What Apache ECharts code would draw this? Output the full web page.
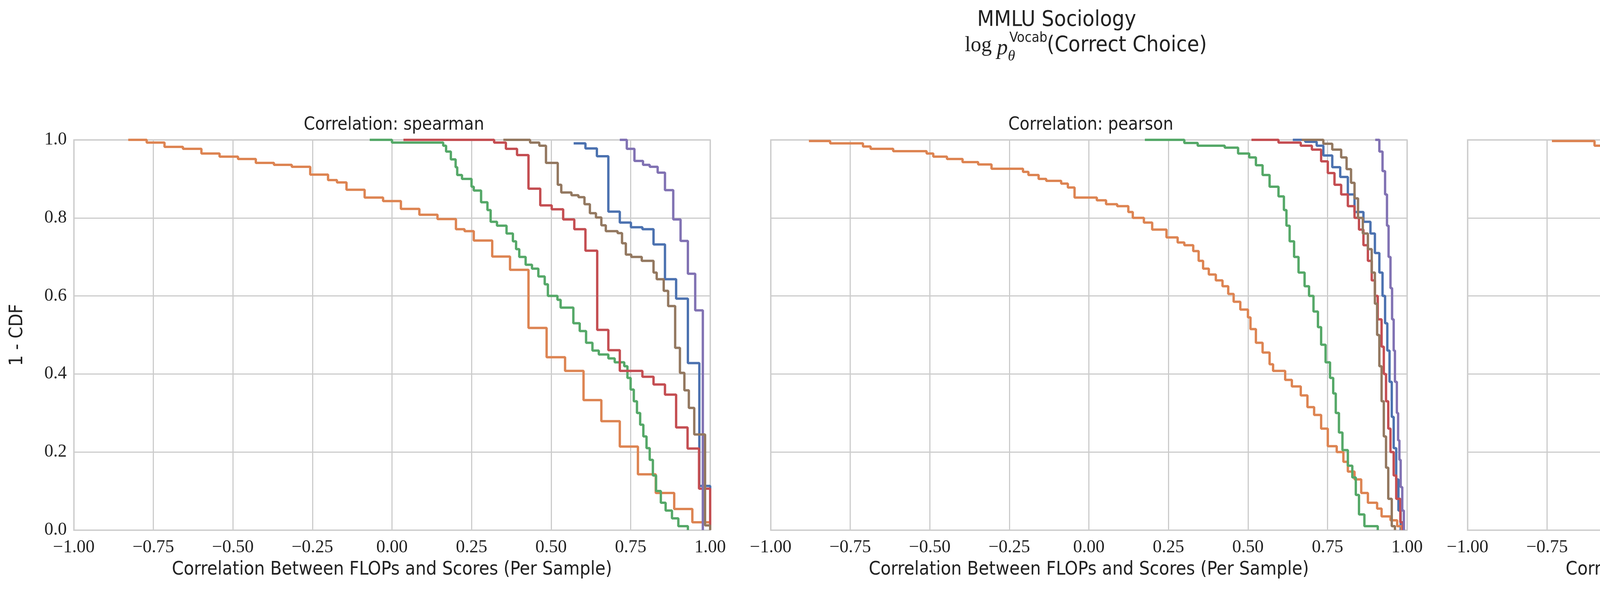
<!DOCTYPE html>
<html>
<head>
<meta charset="utf-8">
<script src="https://cdn.jsdelivr.net/npm/echarts@6/dist/echarts.min.js"></script>
<style>
html, body { margin: 0; padding: 0; background: #fff; }
#chart { width: 6541px; height: 1536px; }
</style>
</head>
<body>
<div id="chart"></div>
<script>
// model families and colours
const families = [
  'Cerebras (Param. and Data Scaling)',
  'INCITE 7B Param. (Data Scaling)',
  'LLM360 Amber 7B Tokens (Param Scaling)',
  'OLMo 7B Param. (Data Scaling)',
  'Pythia 12B Param. (Data Scaling)',
  'Pythia 300B Tokens (Param. Scaling)'
];
const colors = ['#4c72b0', '#dd8452', '#55a868', '#c44e52', '#8172b3', '#937860'];
const panelTitles = ['Correlation: spearman', 'Correlation: pearson', 'Correlation: kendall'];
const xTicks = [-1, -0.75, -0.5, -0.25, 0, 0.25, 0.5, 0.75, 1];
const yTicks = [0, 0.2, 0.4, 0.6, 0.8, 1.0];

// 1 - CDF steps: [correlation, value after the drop]
// spearman
const sp_cerebras = [[0.571,0.991],[0.608,0.978],[0.644,0.958],[0.680,0.816],[0.716,0.788],[0.751,0.776],[0.787,0.771],[0.822,0.732],[0.858,0.643],[0.893,0.593],[0.930,0.428],[0.966,0.113],[1.0,0]];
const sp_incite = [[-0.829,1.0],[-0.771,0.993],[-0.715,0.982],[-0.657,0.977],[-0.599,0.965],[-0.542,0.957],[-0.484,0.951],[-0.428,0.941],[-0.371,0.936],[-0.315,0.931],[-0.257,0.911],[-0.201,0.897],[-0.173,0.891],[-0.143,0.872],[-0.086,0.852],[-0.028,0.843],[0.028,0.823],[0.086,0.808],[0.143,0.797],[0.201,0.771],[0.228,0.766],[0.257,0.742],[0.315,0.701],[0.371,0.667],[0.429,0.518],[0.486,0.443],[0.544,0.408],[0.602,0.333],[0.658,0.279],[0.716,0.214],[0.773,0.143],[0.829,0.095],[0.887,0.054],[0.944,0.020],[1.0,0]];
const sp_amber = [[-0.07,1.0],[0.0,0.993],[0.161,0.985],[0.17,0.97],[0.185,0.95],[0.2,0.93],[0.205,0.91],[0.22,0.90],[0.25,0.88],[0.257,0.87],[0.28,0.84],[0.30,0.82],[0.31,0.79],[0.33,0.78],[0.36,0.76],[0.38,0.74],[0.39,0.72],[0.40,0.70],[0.42,0.68],[0.44,0.67],[0.46,0.65],[0.48,0.63],[0.49,0.60],[0.52,0.59],[0.53,0.57],[0.57,0.53],[0.59,0.51],[0.61,0.48],[0.63,0.46],[0.65,0.45],[0.68,0.44],[0.70,0.43],[0.73,0.42],[0.74,0.39],[0.75,0.36],[0.76,0.33],[0.77,0.30],[0.78,0.27],[0.79,0.24],[0.80,0.21],[0.81,0.18],[0.82,0.14],[0.83,0.10],[0.845,0.07],[0.86,0.05],[0.88,0.03],[0.90,0.01],[0.93,0.0]];
const sp_olmo = [[0.036,1.0],[0.321,0.993],[0.358,0.977],[0.393,0.961],[0.429,0.875],[0.466,0.832],[0.502,0.822],[0.538,0.796],[0.573,0.771],[0.608,0.716],[0.645,0.513],[0.680,0.461],[0.716,0.408],[0.787,0.393],[0.822,0.373],[0.858,0.347],[0.893,0.263],[0.929,0.209],[0.965,0.106],[1.0,0]];
const sp_pythia12 = [[0.716,1.0],[0.738,0.977],[0.762,0.946],[0.789,0.936],[0.810,0.931],[0.835,0.916],[0.858,0.871],[0.884,0.796],[0.907,0.741],[0.930,0.657],[0.953,0.563],[0.977,0.0]];
const sp_pythia300 = [[0.350,1.0],[0.434,0.993],[0.463,0.985],[0.484,0.941],[0.521,0.885],[0.532,0.865],[0.564,0.858],[0.586,0.853],[0.605,0.835],[0.622,0.812],[0.641,0.801],[0.658,0.781],[0.672,0.766],[0.709,0.761],[0.723,0.735],[0.735,0.706],[0.752,0.700],[0.785,0.690],[0.822,0.660],[0.832,0.643],[0.854,0.613],[0.868,0.574],[0.890,0.467],[0.905,0.403],[0.919,0.358],[0.933,0.313],[0.950,0.245],[0.984,0.012],[1.0,0]];
// pearson
const pe_cerebras = [[0.641,1.0],[0.680,0.995],[0.716,0.985],[0.737,0.960],[0.765,0.930],[0.790,0.905],[0.814,0.860],[0.835,0.815],[0.863,0.790],[0.885,0.760],[0.899,0.710],[0.913,0.660],[0.923,0.600],[0.931,0.530],[0.938,0.460],[0.945,0.380],[0.952,0.290],[0.958,0.210],[0.966,0.130],[0.973,0.050],[0.980,0.0]];
const pe_incite = [[-0.880,0.997],[-0.813,0.991],[-0.710,0.983],[-0.686,0.977],[-0.615,0.971],[-0.510,0.965],[-0.489,0.957],[-0.446,0.951],[-0.397,0.943],[-0.348,0.937],[-0.306,0.926],[-0.207,0.918],[-0.190,0.910],[-0.158,0.900],[-0.134,0.895],[-0.087,0.888],[-0.066,0.878],[-0.045,0.852],[0.025,0.845],[0.054,0.835],[0.089,0.830],[0.124,0.815],[0.138,0.800],[0.173,0.788],[0.199,0.770],[0.244,0.750],[0.279,0.737],[0.300,0.730],[0.328,0.715],[0.345,0.690],[0.359,0.670],[0.377,0.655],[0.399,0.640],[0.420,0.625],[0.438,0.605],[0.455,0.585],[0.476,0.565],[0.500,0.545],[0.508,0.515],[0.525,0.480],[0.546,0.455],[0.568,0.425],[0.579,0.408],[0.617,0.385],[0.638,0.368],[0.666,0.345],[0.687,0.315],[0.708,0.295],[0.730,0.260],[0.751,0.215],[0.779,0.200],[0.800,0.175],[0.814,0.150],[0.835,0.130],[0.856,0.095],[0.877,0.070],[0.906,0.055],[0.920,0.035],[0.948,0.025],[0.969,0.010],[0.983,0.0]];
const pe_amber = [[0.176,1.0],[0.300,0.992],[0.342,0.985],[0.427,0.980],[0.469,0.965],[0.504,0.955],[0.525,0.935],[0.546,0.910],[0.568,0.880],[0.596,0.855],[0.613,0.820],[0.621,0.780],[0.631,0.740],[0.645,0.700],[0.659,0.660],[0.678,0.625],[0.692,0.600],[0.706,0.560],[0.720,0.520],[0.730,0.475],[0.744,0.430],[0.758,0.390],[0.768,0.350],[0.776,0.300],[0.786,0.250],[0.797,0.205],[0.814,0.165],[0.828,0.135],[0.839,0.090],[0.849,0.040],[0.866,0.010],[0.908,0.0]];
const pe_olmo = [[0.511,1.0],[0.596,0.993],[0.666,0.985],[0.701,0.975],[0.730,0.945],[0.751,0.915],[0.772,0.885],[0.793,0.860],[0.814,0.830],[0.835,0.800],[0.849,0.770],[0.863,0.730],[0.877,0.690],[0.889,0.640],[0.899,0.600],[0.908,0.540],[0.920,0.470],[0.927,0.400],[0.934,0.330],[0.941,0.260],[0.948,0.200],[0.958,0.140],[0.966,0.080],[0.979,0.020],[0.987,0.0]];
const pe_pythia12 = [[0.900,1.0],[0.913,0.970],[0.923,0.920],[0.931,0.860],[0.937,0.780],[0.942,0.700],[0.948,0.620],[0.953,0.540],[0.958,0.460],[0.962,0.380],[0.968,0.300],[0.972,0.230],[0.976,0.180],[0.980,0.110],[0.985,0.050],[0.990,0.0]];
const pe_pythia300 = [[0.669,1.0],[0.737,0.990],[0.765,0.975],[0.793,0.955],[0.810,0.925],[0.824,0.890],[0.835,0.850],[0.846,0.800],[0.861,0.760],[0.877,0.720],[0.889,0.660],[0.899,0.580],[0.906,0.500],[0.913,0.420],[0.920,0.330],[0.927,0.240],[0.934,0.160],[0.941,0.080],[0.952,0.010],[0.962,0.0]];
// kendall
const ke_cerebras = [[0.334,0.991],[0.432,0.960],[0.525,0.817],[0.622,0.742],[0.715,0.635],[0.812,0.427],[0.908,0.113],[1.0,0]];
const ke_incite = [[-0.735,0.997],[-0.601,0.985],[-0.467,0.960],[-0.333,0.940],[-0.199,0.905],[-0.138,0.900],[-0.065,0.846],[0.066,0.797],[0.140,0.792],[0.200,0.673],[0.334,0.425],[0.468,0.265],[0.601,0.145],[0.735,0.053],[0.869,0.020],[1.0,0.02]];
const ke_amber = [[-0.121,0.997],[-0.030,0.995],[0.001,0.980],[0.031,0.963],[0.062,0.945],[0.093,0.912],[0.123,0.870],[0.153,0.826],[0.182,0.781],[0.213,0.752],[0.245,0.722],[0.274,0.672],[0.305,0.647],[0.334,0.612],[0.365,0.572],[0.398,0.532],[0.426,0.522],[0.458,0.472],[0.488,0.447],[0.518,0.432],[0.549,0.382],[0.580,0.362],[0.609,0.278],[0.640,0.213],[0.669,0.153],[0.700,0.083],[0.729,0.053],[0.760,0.023],[0.791,0.005],[0.821,0.0]];
const ke_olmo = [[0.048,0.997],[0.144,0.990],[0.241,0.960],[0.334,0.855],[0.429,0.578],[0.525,0.468],[0.622,0.392],[0.715,0.333],[0.812,0.208],[0.908,0.104],[1.0,0.104]];
const ke_pythia12 = [[0.432,0.997],[0.502,0.980],[0.574,0.945],[0.619,0.940],[0.645,0.917],[0.715,0.835],[0.789,0.715],[0.859,0.566],[0.930,0.11],[0.99,0.02],[1.0,0.02]];
const ke_pythia300 = [[0.168,1.0],[0.224,0.990],[0.281,0.980],[0.309,0.975],[0.334,0.920],[0.389,0.865],[0.446,0.790],[0.502,0.765],[0.559,0.725],[0.612,0.682],[0.669,0.642],[0.725,0.582],[0.756,0.578],[0.779,0.403],[0.810,0.398],[0.835,0.263],[0.891,0.103],[0.948,0.008],[1.0,0.008]];

const panels = [
  [sp_cerebras, sp_incite, sp_amber, sp_olmo, sp_pythia12, sp_pythia300],
  [pe_cerebras, pe_incite, pe_amber, pe_olmo, pe_pythia12, pe_pythia300],
  [ke_cerebras, ke_incite, ke_amber, ke_olmo, ke_pythia12, ke_pythia300]
];

const gridLefts = [189, 1973, 3757];
const gridW = 1629, gridTop = 358, gridH = 999;
const sans = '"Liberation Sans Narrow", "DejaVu Sans Condensed", "Liberation Sans", sans-serif';
const serif = '"Liberation Serif", "DejaVu Serif", serif';
const grey = '#cccccc';

const fmtX = v => (v < 0 ? '\u2212' : '') + Math.abs(v).toFixed(2);

let chart = echarts.init(document.getElementById('chart'));

let grids = [], xAxes = [], yAxes = [], series = [], titles = [];
panels.forEach((panel, p) => {
  grids.push({ left: gridLefts[p], top: gridTop, width: gridW, height: gridH,
    show: true, borderColor: grey, borderWidth: 3, backgroundColor: '#fff' });
  xAxes.push({
    gridIndex: p, type: 'value', min: -1, max: 1, interval: 0.25,
    name: 'Correlation Between FLOPs and Scores (Per Sample)',
    nameLocation: 'middle', nameGap: 78,
    nameTextStyle: { fontFamily: sans, fontSize: 48, color: '#222' },
    axisLine: { show: true, lineStyle: { color: grey, width: 3 } },
    axisTick: { show: false },
    axisLabel: { formatter: fmtX, fontFamily: serif, fontSize: 46, color: '#222', margin: 22 },
    splitLine: { show: true, lineStyle: { color: grey, width: 3 } }
  });
  yAxes.push({
    gridIndex: p, type: 'value', min: 0, max: 1, interval: 0.2,
    name: p === 0 ? '1 - CDF' : '', nameLocation: 'middle', nameGap: 120, nameRotate: 90,
    nameTextStyle: { fontFamily: sans, fontSize: 48, color: '#222' },
    axisLine: { show: true, lineStyle: { color: grey, width: 3 } },
    axisTick: { show: false },
    axisLabel: { show: p === 0, formatter: v => v.toFixed(1), fontFamily: serif, fontSize: 46, color: '#222', margin: 18 },
    splitLine: { show: true, lineStyle: { color: grey, width: 3 } }
  });
  titles.push({
    text: panelTitles[p], left: gridLefts[p] + gridW / 2, top: 292, textAlign: 'center',
    textStyle: { fontFamily: sans, fontSize: 46, fontWeight: 'normal', color: '#222' }
  });
  panel.forEach((pts, i) => {
    series.push({
      name: families[i], type: 'line', step: 'end', xAxisIndex: p, yAxisIndex: p,
      data: pts, showSymbol: false, symbol: 'none',
      lineStyle: { color: colors[i], width: 6 }, itemStyle: { color: colors[i] },
      z: 2 + i
    });
  });
});

titles.push({
  text: 'MMLU Sociology', left: 2700, top: 18, textAlign: 'center',
  textStyle: { fontFamily: sans, fontSize: 56, fontWeight: 'normal', color: '#222' }
});
titles.push({
  text: 'Model Family', left: 6005, top: 92, textAlign: 'center',
  textStyle: { fontFamily: sans, fontSize: 48, fontWeight: 'normal', color: '#222' }
});

chart.setOption({
  animation: false,
  backgroundColor: '#fff',
  title: titles,
  legend: {
    data: families, orient: 'vertical', left: 5520, top: 160,
    itemWidth: 98, itemHeight: 10, itemGap: 22, icon: 'roundRect',
    textStyle: { fontFamily: sans, fontSize: 46, color: '#222', lineHeight: 48 }
  },
  grid: grids, xAxis: xAxes, yAxis: yAxes, series: series,
  graphic: [
    { type: 'text', left: 2470, top: 90, style: { text: 'log', font: '54px ' + serif, fill: '#222' } },
    { type: 'text', left: 2552, top: 96, style: { text: 'p', font: 'italic 56px ' + serif, fill: '#222' } },
    { type: 'text', left: 2584, top: 80, style: { text: 'Vocab', font: '36px ' + sans, fill: '#222' } },
    { type: 'text', left: 2580, top: 126, style: { text: '\u03b8', font: 'italic 38px ' + serif, fill: '#222' } },
    { type: 'text', left: 2680, top: 88, style: { text: '(Correct Choice)', font: '56px ' + sans, fill: '#222' } }
  ]
});
</script>
</body>
</html>
